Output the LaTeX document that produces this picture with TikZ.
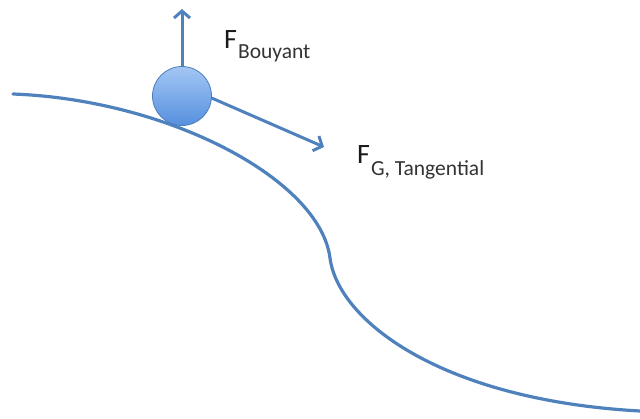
\documentclass[tikz,border=0pt]{standalone}
\usepackage{fontspec}
\setmainfont{Carlito}
\usetikzlibrary{arrows.meta}
\definecolor{lineblue}{HTML}{4F81BD}
\definecolor{balltop}{HTML}{A3C6F4}
\definecolor{ballbot}{HTML}{5690DE}
\definecolor{ballrim}{HTML}{4A7EBB}
\definecolor{txt}{HTML}{1A1A1A}
\definecolor{subtxt}{HTML}{333333}
\tikzset{
  curveline/.style={draw=lineblue, line width=3.2pt, line cap=round},
  forcearrow/.style={draw=lineblue, line width=3pt, -{Straight Barb[length=7pt,width=16pt,line width=3pt]}},
  ballstyle/.style={circle, minimum size=59pt, inner sep=0pt, draw=ballrim, line width=0.8pt, top color=balltop, bottom color=ballbot},
  forcelabel/.style={anchor=base west, inner sep=0pt, text=txt}
}
\begin{document}
\begin{tikzpicture}[x=1pt, y=-1pt]
\useasboundingbox (0,0) rectangle (640,418);
% ground curve
\coordinate (gstart) at (13,94);
\coordinate (gmid) at (330,258);
\coordinate (gend) at (640,411);
\draw[curveline] (gstart) .. controls (170,100) and (320,180) .. (gmid)
  .. controls (338,320) and (440,400) .. (gend);
% ball
\node[ballstyle] (ball) at (182,96) {};
% arrows
\coordinate (uptip) at (182,9);
\coordinate (tantip) at (324,147);
\draw[forcearrow] (ball.north) -- (uptip);
\draw[forcearrow] (ball.-4) -- (tantip);
% labels
\node[forcelabel] (fb) at (224,48) {\fontsize{28}{28}\selectfont F\hspace{1pt}\raisebox{-10pt}{\color{subtxt}\fontsize{21.5}{21.5}\selectfont Bouyant}};
\node[forcelabel] (fg) at (357,163) {\fontsize{28}{28}\selectfont F\hspace{1pt}\raisebox{-12pt}{\color{subtxt}\fontsize{21.5}{21.5}\selectfont G, Tangential}};
\end{tikzpicture}
\end{document}
